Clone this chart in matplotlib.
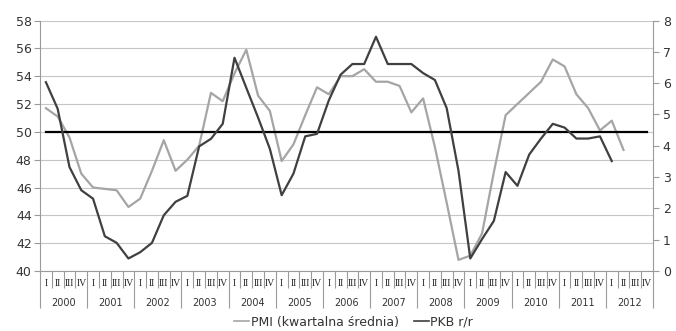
import numpy as np
import matplotlib
matplotlib.use("Agg")
import matplotlib.pyplot as plt
import matplotlib.transforms as mtransforms
from matplotlib.lines import Line2D

# ---------- Data (quarterly, 2000 Q1 - 2012 Q4) ----------
years = [str(y) for y in range(2000, 2013)]
quarters = ["I", "II", "III", "IV"]

# PMI, quarterly average (left axis)
pmi = [51.7, 51.1, 49.6, 47.0, 46.0, 45.9, 45.8, 44.6, 45.2, 47.2,
       49.4, 47.2, 48.0, 49.0, 52.8, 52.2, 54.2, 55.9, 52.6, 51.5,
       47.9, 49.1, 51.2, 53.2, 52.7, 54.0, 54.0, 54.5, 53.6, 53.6,
       53.3, 51.4, 52.4, 48.9, 44.9, 40.8, 41.1, 42.7, 47.1, 51.2,
       52.0, 52.8, 53.6, 55.2, 54.7, 52.7, 51.7, 50.1, 50.8, 48.7]

# GDP y/y, % (right axis)
pkb = [6.03, 5.18, 3.32, 2.58, 2.31, 1.11, 0.90, 0.40, 0.60, 0.90,
       1.78, 2.21, 2.40, 3.98, 4.22, 4.70, 6.81, 5.85, 4.90, 3.90,
       2.42, 3.11, 4.30, 4.38, 5.45, 6.27, 6.61, 6.61, 7.48, 6.61,
       6.61, 6.61, 6.32, 6.10, 5.20, 3.20, 0.40, 1.02, 1.60, 3.16,
       2.72, 3.72, 4.23, 4.70, 4.58, 4.23, 4.23, 4.30, 3.51]

threshold = 50

n_q = len(years) * len(quarters)
x_all = np.arange(n_q)

# ---------- Figure ----------
AXIS_GREY = "#9a9a9a"
GRID_GREY = "#c6c6c6"
TEXT = "#333333"

fig = plt.figure(figsize=(6.76, 3.31), dpi=100)
ax = fig.add_axes([40 / 676, 1 - 271 / 331, 613 / 676, 250.5 / 331])
ax2 = ax.twinx()

ax.plot(np.arange(len(pmi)), pmi, color="#a5a5a5", lw=1.6, zorder=3)
ax.plot(x_all, [threshold] * n_q, color="black", lw=1.6, zorder=4)
ax2.plot(np.arange(len(pkb)), pkb, color="#404040", lw=1.6, zorder=3)

ax.set_xlim(-0.5, n_q - 0.5)
ax.set_ylim(40, 58)
ax.set_yticks(np.arange(40, 59, 2))
ax2.set_ylim(0, 8)
ax2.set_yticks(np.arange(0, 9, 1))

ax.grid(axis="y", color=GRID_GREY, lw=0.8)
ax.set_axisbelow(True)

for a in (ax, ax2):
    a.spines["top"].set_visible(False)
    for s in ("left", "right", "bottom"):
        a.spines[s].set_color(AXIS_GREY)
        a.spines[s].set_linewidth(0.8)
ax.spines["right"].set_visible(False)
ax2.spines["left"].set_visible(False)
ax2.spines["bottom"].set_visible(False)

ax.tick_params(axis="y", length=4, width=0.8, color=AXIS_GREY,
               labelsize=9, labelcolor=TEXT, pad=2)
ax2.tick_params(axis="y", length=4, width=0.8, color=AXIS_GREY,
                labelsize=9, labelcolor=TEXT, pad=3)

# category separators: short between quarters, long between years
quarter_bounds = [i + 0.5 for i in range(n_q - 1) if (i + 1) % 4 != 0]
year_bounds = [i - 0.5 for i in range(0, n_q + 1, 4)]
ax.set_xticks(year_bounds)
ax.set_xticks(quarter_bounds, minor=True)
ax.set_xticklabels([])
ax.tick_params(axis="x", which="major", length=26.5, width=0.8,
               color=AXIS_GREY, direction="out")
ax.tick_params(axis="x", which="minor", length=12, width=0.8,
               color=AXIS_GREY, direction="out")

trans = mtransforms.blended_transform_factory(ax.transData, ax.transAxes)
for yi, yr in enumerate(years):
    for qi, q in enumerate(quarters):
        ax.text(yi * 4 + qi, -0.05, q, transform=trans, ha="center",
                va="center", fontsize=7, family="Liberation Serif",
                color="#222222")
    ax.text(yi * 4 + 1.5, -0.128, yr, transform=trans, ha="center",
            va="center", fontsize=7, color=TEXT)

handles = [Line2D([], [], color="#a5a5a5", lw=1.2),
           Line2D([], [], color="#404040", lw=1.2)]
fig.legend(handles, ["PMI (kwartalna średnia)", "PKB r/r"],
           loc="center", bbox_to_anchor=(0.523, 0.027), ncol=2,
           frameon=False, fontsize=9, handlelength=1.2, handletextpad=0.1,
           columnspacing=1.2, labelcolor=TEXT)

fig.savefig("out.png", dpi=100)
